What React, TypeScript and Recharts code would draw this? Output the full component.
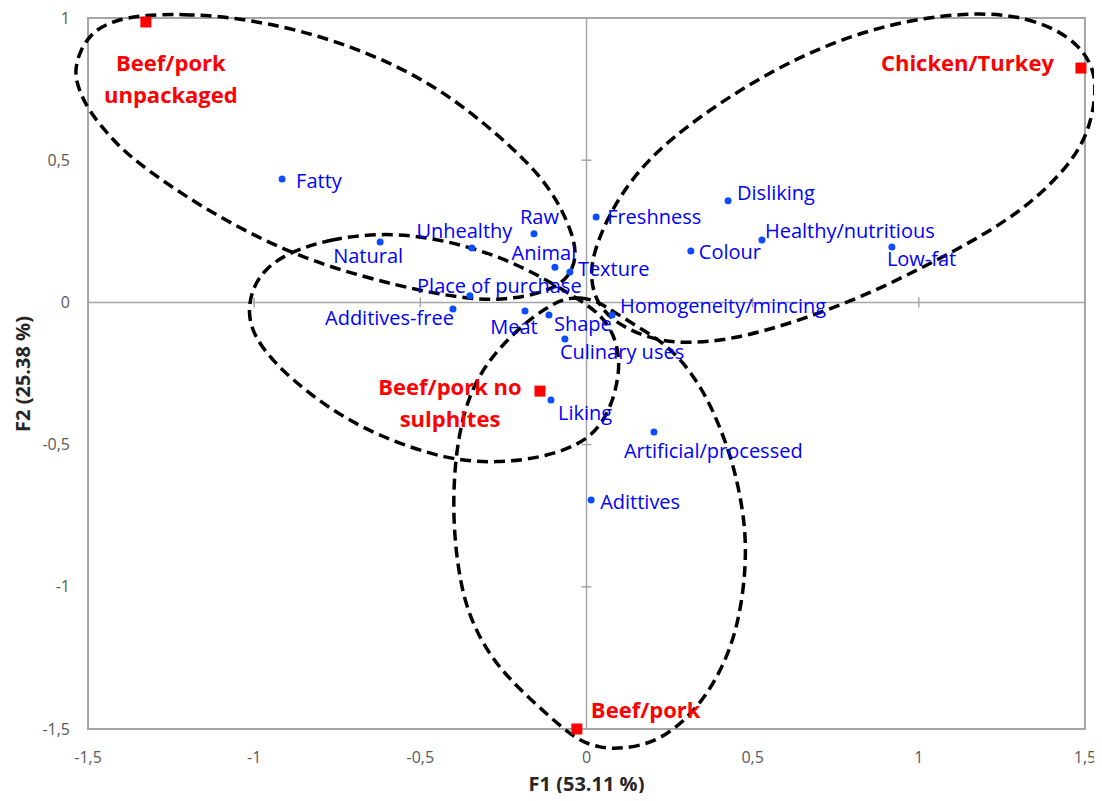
import React from 'react';
import {
  ComposedChart, XAxis, YAxis, Scatter, Line,
  ReferenceArea, ReferenceLine,
} from 'recharts';

// axis ticks
const X_TICKS = [-1.5, -1, -0.5, 0, 0.5, 1, 1.5];
const Y_TICKS = [-1.5, -1, -0.5, 0, 0.5, 1];

// attributes (blue)
const ATTRIBUTES = [
  'Fatty', 'Natural', 'Unhealthy', 'Raw', 'Freshness', 'Animal', 'Texture',
  'Place of purchase', 'Additives-free', 'Meat', 'Shape', 'Culinary uses',
  'Homogeneity/mincing', 'Liking', 'Artificial/processed', 'Adittives',
  'Disliking', 'Colour', 'Healthy/nutritious', 'Low-fat',
];
const ATTR_F1 = [
  -0.916, -0.621, -0.345, -0.158, 0.029, -0.095, -0.050,
  -0.351, -0.402, -0.185, -0.113, -0.065,
  0.077, -0.107, 0.203, 0.014,
  0.426, 0.314, 0.528, 0.919,
];
const ATTR_F2 = [
  0.434, 0.212, 0.191, 0.241, 0.300, 0.124, 0.107,
  0.023, -0.023, -0.030, -0.044, -0.129,
  -0.044, -0.343, -0.456, -0.695,
  0.357, 0.181, 0.219, 0.195,
];

// products (red)
const PRODUCTS = ['Beef/pork unpackaged', 'Chicken/Turkey', 'Beef/pork no sulphites', 'Beef/pork'];
const PRODUCT_F1 = [-1.326, 1.488, -0.140, -0.029];
const PRODUCT_F2 = [0.986, 0.824, -0.312, -1.500];

// dashed group outlines, [F1, F2]
const GROUP_UNPACKAGED = [
  [-1.326, 1.011], [-1.220, 1.014], [-1.067, 1.004], [-0.859, 0.958], [-0.652, 0.877],
  [-0.444, 0.757], [-0.257, 0.582], [-0.140, 0.448], [-0.080, 0.342], [-0.041, 0.237],
  [-0.029, 0.160], [-0.053, 0.086], [-0.113, 0.040], [-0.221, 0.012], [-0.320, 0.008],
  [-0.471, 0.033], [-0.673, 0.089], [-0.901, 0.174], [-1.163, 0.335], [-1.365, 0.501],
  [-1.434, 0.582], [-1.500, 0.677], [-1.527, 0.747], [-1.542, 0.810], [-1.524, 0.888],
  [-1.485, 0.954], [-1.419, 0.993],
];
const GROUP_NO_SULPHITES = [
  [-0.901, 0.174], [-0.772, 0.223], [-0.621, 0.244], [-0.471, 0.230], [-0.320, 0.184],
  [-0.221, 0.139], [-0.119, 0.079], [-0.020, 0.008], [0.041, -0.041], [0.083, -0.111],
  [0.101, -0.203], [0.092, -0.290], [0.068, -0.385], [0.011, -0.484], [-0.119, -0.544],
  [-0.269, -0.565], [-0.420, -0.554], [-0.621, -0.473], [-0.772, -0.378], [-0.922, -0.238],
  [-1.001, -0.122], [-1.019, -0.037], [-1.007, 0.044], [-0.971, 0.114],
];
const GROUP_CHICKEN = [
  [1.169, 1.021], [1.326, 1.004], [1.455, 0.937], [1.521, 0.845], [1.536, 0.747],
  [1.512, 0.596], [1.449, 0.476], [1.326, 0.335], [1.169, 0.219], [1.013, 0.124],
  [0.856, 0.033], [0.649, -0.062], [0.441, -0.132], [0.284, -0.146], [0.179, -0.125],
  [0.077, -0.065], [0.026, 0.008], [0.011, 0.096], [0.023, 0.184], [0.077, 0.335],
  [0.179, 0.501], [0.336, 0.652], [0.543, 0.807], [0.754, 0.923], [0.961, 0.993],
];
const GROUP_BEEF_PORK = [
  [-0.071, 0.012], [-0.020, 0.019], [0.032, 0.005], [0.083, -0.034], [0.161, -0.090],
  [0.242, -0.150], [0.311, -0.238], [0.366, -0.343], [0.405, -0.449], [0.441, -0.565],
  [0.474, -0.741], [0.483, -0.916], [0.456, -1.152], [0.393, -1.328], [0.311, -1.458],
  [0.212, -1.546], [0.110, -1.570], [0.041, -1.567], [-0.029, -1.539], [-0.110, -1.458],
  [-0.209, -1.352], [-0.290, -1.247], [-0.360, -1.092], [-0.390, -0.916], [-0.402, -0.741],
  [-0.396, -0.554], [-0.372, -0.396], [-0.333, -0.273], [-0.269, -0.167], [-0.185, -0.072],
  [-0.122, -0.020],
];

const attrData = ATTRIBUTES.map((name, i) => ({ name, x: ATTR_F1[i], y: ATTR_F2[i] }));
const productData = PRODUCTS.map((name, i) => ({ name, x: PRODUCT_F1[i], y: PRODUCT_F2[i] }));
const toPoints = (pts: number[][]) => pts.map(([x, y]) => ({ x, y }));
const groups = [GROUP_UNPACKAGED, GROUP_NO_SULPHITES, GROUP_CHICKEN, GROUP_BEEF_PORK].map(toPoints);

// layout
const CHART_W = 1094;
const CHART_H = 785;
const Y_AXIS_W = 63.43;
const X_AXIS_H = 41.25;
const MARGIN = { top: 2.89, right: 0.43, bottom: 0, left: 0 };
const X_DOMAIN: [number, number] = [-1.55, 1.55];
const Y_DOMAIN: [number, number] = [-1.58, 1.025];
const PX_X = (CHART_W - Y_AXIS_W - MARGIN.right) / (X_DOMAIN[1] - X_DOMAIN[0]);
const PX_Y = (CHART_H - MARGIN.top - X_AXIS_H) / (Y_DOMAIN[1] - Y_DOMAIN[0]);
const MARK = 5;

const FONT = "'Open Sans', 'Noto Sans', sans-serif";
const GRID = '#a6a6a6';
const BLUE = '#0000ff';
const RED = '#ff0000';

type Anchor = 'start' | 'middle' | 'end';
const ATTR_LABEL: Record<string, { dx: number; dy: number; anchor: Anchor }> = {
  'Fatty': { dx: 14, dy: 2, anchor: 'start' },
  'Natural': { dx: -12, dy: 14, anchor: 'middle' },
  'Unhealthy': { dx: -7.5, dy: -17, anchor: 'middle' },
  'Raw': { dx: 5.5, dy: -17, anchor: 'middle' },
  'Freshness': { dx: 11, dy: 0, anchor: 'start' },
  'Animal': { dx: -11, dy: -14, anchor: 'middle' },
  'Texture': { dx: 8, dy: -3, anchor: 'start' },
  'Place of purchase': { dx: 29.5, dy: -10, anchor: 'middle' },
  'Additives-free': { dx: 1, dy: 9, anchor: 'end' },
  'Meat': { dx: -11, dy: 16, anchor: 'middle' },
  'Shape': { dx: 5, dy: 9, anchor: 'start' },
  'Culinary uses': { dx: -5, dy: 13, anchor: 'start' },
  'Homogeneity/mincing': { dx: 8, dy: -9, anchor: 'start' },
  'Liking': { dx: 7, dy: 13, anchor: 'start' },
  'Artificial/processed': { dx: -30, dy: 19, anchor: 'start' },
  'Adittives': { dx: 9, dy: 2, anchor: 'start' },
  'Disliking': { dx: 9, dy: -8, anchor: 'start' },
  'Colour': { dx: 8, dy: 1, anchor: 'start' },
  'Healthy/nutritious': { dx: 3, dy: -9, anchor: 'start' },
  'Low-fat': { dx: -5, dy: 12, anchor: 'start' },
};

const PRODUCT_LABEL: Record<string, { dx: number; dy: number; anchor: Anchor; lines: string[] }> = {
  'Beef/pork unpackaged': { dx: 25, dy: 41, anchor: 'middle', lines: ['Beef/pork', 'unpackaged'] },
  'Chicken/Turkey': { dx: -27, dy: -5, anchor: 'end', lines: ['Chicken/Turkey'] },
  'Beef/pork no sulphites': { dx: -90, dy: -4, anchor: 'middle', lines: ['Beef/pork no', 'sulphites'] },
  'Beef/pork': { dx: 14, dy: -19, anchor: 'start', lines: ['Beef/pork'] },
};

const fmt = (v: number) => String(v).replace('.', ',');

function XTick({ x, y, payload }: any) {
  return (
    <text x={x} y={y + 11} textAnchor="middle" fontSize={16} fill="#595959" fontFamily={FONT}>
      {fmt(payload.value)}
    </text>
  );
}

function YTick({ x, y, payload }: any) {
  return (
    <text x={x - 1.4} y={y + 5.6} textAnchor="end" fontSize={16} fill="#595959" fontFamily={FONT}>
      {fmt(payload.value)}
    </text>
  );
}

function AttrShape({ cx, cy, payload }: any) {
  const p = ATTR_LABEL[payload.name];
  return (
    <g>
      <circle cx={cx} cy={cy} r={3.5} fill="#0a4cff" />
      <text x={cx + p.dx} y={cy + p.dy + 7} textAnchor={p.anchor} fontSize={20} fill={BLUE} fontFamily={FONT}>
        {payload.name}
      </text>
    </g>
  );
}

function ProductShape({ cx, cy, payload }: any) {
  const p = PRODUCT_LABEL[payload.name];
  return (
    <g>
      <rect x={cx - 5.5} y={cy - 5.5} width={11} height={11} fill={RED} />
      {p.lines.map((line, i) => (
        <text key={i} x={cx + p.dx} y={cy + p.dy + i * 32 + 7.7} textAnchor={p.anchor}
          fontSize={22} fontWeight="bold" fill={RED} fontFamily={FONT}>
          {line}
        </text>
      ))}
    </g>
  );
}

export default function App() {
  const xMarks = X_TICKS.filter(v => v !== 0 && Math.abs(v) < 1.5);
  const yMarks = Y_TICKS.filter(v => v !== 0 && v > Y_TICKS[0] && v < Y_TICKS[Y_TICKS.length - 1]);
  const yTop = Y_TICKS[Y_TICKS.length - 1];
  const yBottom = Y_TICKS[0];

  return (
    <div style={{ position: 'relative', width: CHART_W, height: CHART_H, fontFamily: FONT }}>
      <ComposedChart width={CHART_W} height={CHART_H} margin={MARGIN}>
        <XAxis
          type="number" dataKey="x" domain={X_DOMAIN} ticks={X_TICKS} height={X_AXIS_H}
          axisLine={false} tickLine={false} tickSize={0} tickMargin={0} tick={<XTick />}
          interval={0}
        />
        <YAxis
          type="number" dataKey="y" domain={Y_DOMAIN} ticks={Y_TICKS} width={Y_AXIS_W}
          axisLine={false} tickLine={false} tickSize={0} tickMargin={0} tick={<YTick />}
          interval={0}
        />
        <ReferenceArea x1={X_TICKS[0]} x2={X_TICKS[X_TICKS.length - 1]} y1={yBottom} y2={yTop}
          fill="none" fillOpacity={0} stroke={GRID} strokeWidth={2} />
        <ReferenceLine segment={[{ x: 0, y: yBottom }, { x: 0, y: yTop }]} stroke={GRID} strokeWidth={1.5} />
        <ReferenceLine segment={[{ x: X_TICKS[0], y: 0 }, { x: X_TICKS[X_TICKS.length - 1], y: 0 }]} stroke={GRID} strokeWidth={1.5} />
        {xMarks.map(v => (
          <ReferenceLine key={'xm' + v} segment={[{ x: v, y: -MARK / PX_Y }, { x: v, y: MARK / PX_Y }]} stroke={GRID} strokeWidth={1.5} />
        ))}
        {yMarks.map(v => (
          <ReferenceLine key={'ym' + v} segment={[{ x: -MARK / PX_X, y: v }, { x: MARK / PX_X, y: v }]} stroke={GRID} strokeWidth={1.5} />
        ))}
        <Scatter data={attrData} dataKey="y" shape={<AttrShape />} isAnimationActive={false} legendType="none" />
        <Scatter data={productData} dataKey="y" shape={<ProductShape />} isAnimationActive={false} legendType="none" />
        {groups.map((g, i) => (
          <Line key={i} data={g} dataKey="y" type="basisClosed" stroke="#000" strokeWidth={3.5}
            strokeDasharray="11 6" dot={false} activeDot={false} isAnimationActive={false} legendType="none" />
        ))}
      </ComposedChart>
      <div style={{
        position: 'absolute', left: 578.5, top: 775, transform: 'translate(-50%, -50%)',
        fontSize: 20, fontWeight: 'bold', color: '#262626', whiteSpace: 'nowrap',
      }}>
        F1 (53.11 %)
      </div>
      <div style={{
        position: 'absolute', left: 14, top: 365.5, transform: 'translate(-50%, -50%) rotate(-90deg)',
        fontSize: 20, fontWeight: 'bold', color: '#262626', whiteSpace: 'nowrap',
      }}>
        F2 (25.38 %)
      </div>
    </div>
  );
}
